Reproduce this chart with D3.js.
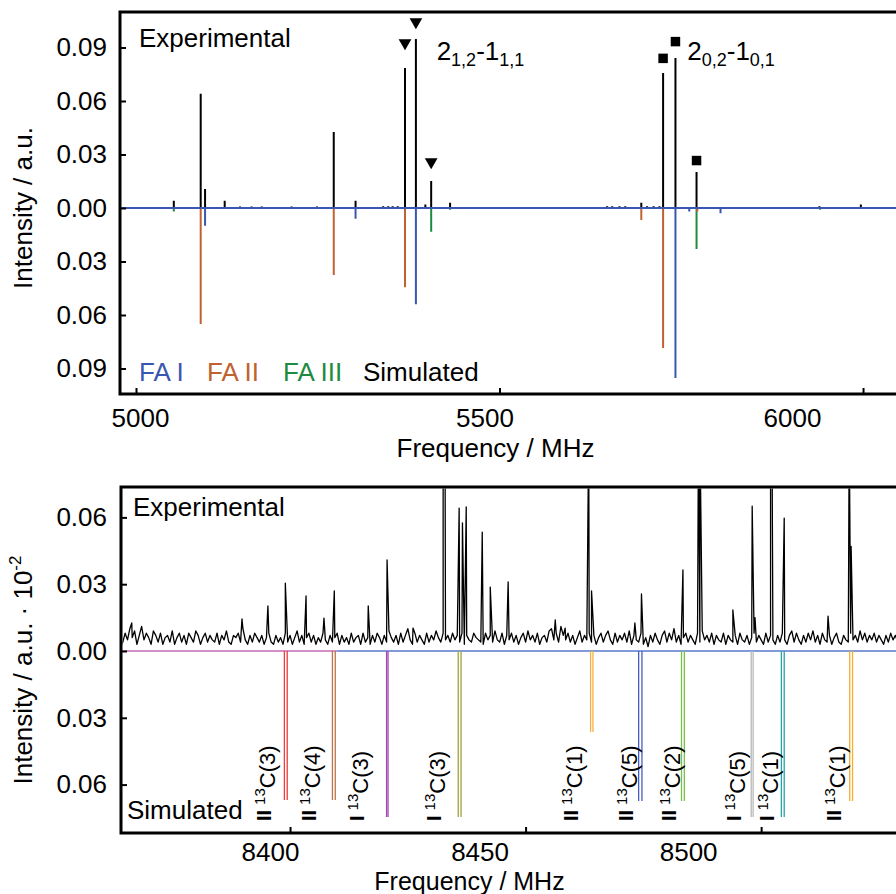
<!DOCTYPE html>
<html lang="en">
<head>
<meta charset="UTF-8">
<title>Rotational spectrum</title>
<style>
  body { margin: 0; background: #fff; }
  svg { display: block; font-family: "Liberation Sans", Arial, sans-serif; }
</style>
</head>
<body>
<div id="chart"></div>
<script src="https://d3js.org/d3.v7.min.js"></script>
<script>
// ---- top panel (broadband, 5000-6000 MHz) ----
const expFreq = [5052, 5089, 5095, 5122, 5143, 5159, 5173, 5214, 5249, 5272, 5302, 5340, 5347, 5353, 5360,
  5370, 5385, 5398, 5406, 5432, 5648, 5655, 5665, 5673, 5695, 5703, 5712, 5720, 5725, 5742, 5771, 5940, 5997];
const expInt = [0.004, 0.064, 0.0107, 0.004, 0.0008, 0.0008, 0.0008, 0.0008, 0.0008, 0.0426, 0.004, 0.001, 0.001, 0.001, 0.001,
  0.0785, 0.0948, 0.002, 0.0151, 0.003, 0.001, 0.001, 0.001, 0.001, 0.003, 0.001, 0.001, 0.001, 0.0757, 0.0841, 0.0202, 0.001, 0.002];

const faIFreq = [5095, 5302, 5385, 5742, 5761, 5804];
const faIInt = [-0.010, -0.006, -0.054, -0.0953, -0.002, -0.003];
const faIIFreq = [5089, 5272, 5370, 5695, 5725, 5772];
const faIIInt = [-0.065, -0.0376, -0.0444, -0.0067, -0.0785, -0.002];
const faIIIFreq = [5052, 5406, 5432, 5771, 5941];
const faIIIInt = [-0.002, -0.0133, -0.001, -0.023, -0.001];

const triFreq = [5370, 5385, 5406];
const triInt = [0.0925, 0.1043, 0.0258];
const sqFreq = [5725, 5742, 5771];
const sqInt = [0.0839, 0.0933, 0.0266];

const legendNames = ["FA I", "FA II", "FA III", "Simulated"];
const topXTicks = [5000, 5500, 6000];
const topYTicks = [-0.09, -0.06, -0.03, 0, 0.03, 0.06, 0.09];

// ---- bottom panel (zoom, 8365-8530 MHz) ----
// experimental noise floor, one sample every 0.5 MHz from 8364 MHz, in units of 0.001
const noiseStart = 8364, noiseStep = 0.5;
const noise = [
  2,4,8,5,10,6,9,3,7,11,5,8,6,3,9,7,4,8,3,6,
  7,4,9,3,6,8,4,7,3,8,6,4,9,7,3,6,8,4,7,5,
  4,8,3,7,5,9,4,3,7,6,8,4,10,5,3,7,4,8,6,4,
  7,3,6,8,4,3,7,4,6,3,8,4,7,3,6,9,4,7,3,6,
  8,4,7,3,6,4,8,5,3,7,4,6,8,3,7,4,6,3,8,4,
  6,7,3,8,4,6,3,7,4,8,6,3,7,4,9,6,4,7,3,8,
  4,7,10,5,3,8,4,7,5,3,8,4,7,5,9,6,4,8,5,7,
  4,8,5,7,4,8,3,7,5,4,8,6,5,4,3,8,5,7,4,9,
  5,4,8,3,7,5,8,4,7,3,6,8,4,9,5,7,4,8,3,6,
  7,4,9,10,5,8,4,11,7,5,8,4,7,3,6,9,4,7,5,8,
  4,7,3,6,8,4,7,9,5,3,8,4,7,5,8,4,9,3,7,5,
  4,8,3,6,2,7,4,8,5,3,7,9,4,8,5,10,4,7,3,6,
  8,4,7,5,3,8,4,9,5,7,4,8,3,7,5,4,8,3,7,5,
  4,7,3,8,5,4,7,3,6,8,4,7,5,3,8,4,7,5,3,7,
  4,8,5,3,7,9,4,8,5,3,7,4,8,5,9,4,7,3,8,5,
  4,7,3,6,8,4,3,7,5,4,8,5,7,4,9,5,8,4,7,5,
  8,4,7,5,3,7,4,8,5,7,4,8,5,3,7,4
];
// experimental lines (tall ones run off the top of the frame)
const peakFreq = [8366.4, 8389.8, 8395.3, 8399.0, 8403.4, 8407.2, 8409.4, 8416.6, 8420.6, 8426.1,
  8432.5, 8432.9, 8435.9, 8436.6, 8437.4, 8440.8, 8442.5, 8446.3, 8456.3, 8458.4, 8463.4, 8464.0,
  8473.2, 8474.6, 8483.4, 8486.7, 8487.0, 8494.0, 8498.1, 8498.7, 8502.0, 8502.3, 8504.9, 8514.2,
  8518.7, 8519.1];
const peakInt = [0.0126, 0.0144, 0.0202, 0.0305, 0.0247, 0.0148, 0.027, 0.0202, 0.0409, 0.0103,
  0.1, 0.1, 0.0642, 0.0575, 0.0647, 0.0534, 0.0287, 0.031, 0.014, 0.0103, 0.1, 0.027,
  0.0126, 0.0256, 0.0364, 0.1, 0.1, 0.0184, 0.0651, 0.015, 0.1, 0.1, 0.0597, 0.0157,
  0.1, 0.047];

// simulated 13C isotopologue doublets
const simFreqs = [[8398.8, 8399.4], [8409.0, 8409.6], [8420.5, 8420.8], [8435.7, 8436.3], [8463.8, 8464.3],
  [8474.0, 8474.7], [8483.1, 8483.7], [8497.9, 8498.3], [8504.3, 8504.9], [8518.8, 8519.4]];
const simInt = [-0.0669, -0.0669, -0.0745, -0.0745, -0.0364, -0.0674, -0.0674, -0.0745, -0.0745, -0.0674];
const simColors = ["#ee3b3b", "#b8744a", "#a447b4", "#a3a23c", "#f5b042", "#4a5cc0", "#79c04a", "#b8b8b8", "#27a3a8", "#f5ae30"];
const simLabelFreq = [8396.8, 8406.4, 8416.6, 8432.9, 8462.0, 8473.7, 8482.8, 8496.6, 8503.6, 8517.8];
const simConformer = ["II", "II", "I", "I", "II", "II", "II", "I", "I", "II"];
const simCarbon = ["3", "4", "3", "3", "1", "5", "2", "5", "1", "1"];
const baseSwitchFreq = 8410;

const botXTicks = [8400, 8450, 8500];
const botYTicks = [-0.06, -0.03, 0, 0.03, 0.06];

const FONT = '"Liberation Sans", Arial, sans-serif';
const BLUE = "#3956b0", BROWN = "#c0622f", GREEN = "#1e8b3e";

const width = 896, height = 894;
const svg = d3.select("#chart").append("svg")
  .attr("width", width).attr("height", height);

const xTop = d3.scaleLinear().domain([4978, 6064.6]).range([120, 910]);
const yTop = d3.scaleLinear().domain([-0.1043, 0.1099]).range([394, 12]);
const xBot = d3.scaleLinear().domain([8364.12, 8531.6]).range([121, 910]);
const yBot = d3.scaleLinear().domain([-0.08174, 0.07365]).range([833, 487]);

const absFmt = d => d3.format(".2f")(Math.abs(d));

function styleAxis(g) {
  g.attr("font-size", 26).attr("font-family", FONT);
  g.select(".domain").remove();
  g.selectAll(".tick line").attr("stroke", "#000").attr("stroke-width", 2);
  g.selectAll(".tick text").attr("fill", "#000");
}

const defs = svg.append("defs");
defs.append("clipPath").attr("id", "clipTop").append("rect")
  .attr("x", 121.5).attr("y", 13.5).attr("width", 800).attr("height", 379);
defs.append("clipPath").attr("id", "clipBot").append("rect")
  .attr("x", 122.5).attr("y", 488.5).attr("width", 800).attr("height", 343);

// ================= top panel =================
const topData = svg.append("g").attr("clip-path", "url(#clipTop)");

topData.append("line")
  .attr("x1", xTop.range()[0]).attr("x2", xTop.range()[1])
  .attr("y1", yTop(0)).attr("y2", yTop(0))
  .attr("stroke", "#000").attr("stroke-width", 1);

function sticks(g, xs, ys, color, w) {
  g.selectAll(null).data(xs).join("line")
    .attr("x1", d => xTop(d)).attr("x2", d => xTop(d))
    .attr("y1", yTop(0)).attr("y2", (d, i) => yTop(ys[i]))
    .attr("stroke", color).attr("stroke-width", w);
}
sticks(topData, expFreq, expInt, "#000", 2);
sticks(topData, faIIIFreq, faIIIInt, GREEN, 2);
sticks(topData, faIIFreq, faIIInt, BROWN, 2);
sticks(topData, faIFreq, faIInt, BLUE, 2);

topData.append("line")
  .attr("x1", xTop.range()[0]).attr("x2", xTop.range()[1])
  .attr("y1", yTop(0)).attr("y2", yTop(0))
  .attr("stroke", BLUE).attr("stroke-width", 2);

svg.append("g").selectAll("path").data(triFreq).join("path")
  .attr("transform", (d, i) => `translate(${xTop(d)},${yTop(triInt[i])}) rotate(180)`)
  .attr("d", d3.symbol().type(d3.symbolTriangle).size(70))
  .attr("fill", "#000");
svg.append("g").selectAll("path").data(sqFreq).join("path")
  .attr("transform", (d, i) => `translate(${xTop(d)},${yTop(sqInt[i])})`)
  .attr("d", d3.symbol().type(d3.symbolSquare).size(90))
  .attr("fill", "#000");

// transition labels
function transition(xf, parts) {
  const t = svg.append("text").attr("x", xTop(xf)).attr("y", 60)
    .attr("font-size", 26).attr("fill", "#000");
  t.append("tspan").text(parts[0]);
  t.append("tspan").attr("font-size", 18).attr("dy", 6).text(parts[1]);
  t.append("tspan").attr("dy", -6).text(parts[2]);
  t.append("tspan").attr("font-size", 18).attr("dy", 6).text(parts[3]);
}
transition(5413.5, ["2", "1,2", "-1", "1,1"]);
transition(5758.2, ["2", "0,2", "-1", "0,1"]);

svg.append("text").attr("x", 139).attr("y", 47).attr("font-size", 26).text("Experimental");

const legendX = [139, 207, 283, 363];
const legendColors = [BLUE, BROWN, GREEN, "#000"];
svg.append("g").selectAll("text").data(legendNames).join("text")
  .attr("x", (d, i) => legendX[i]).attr("y", 381)
  .attr("font-size", 26).attr("fill", (d, i) => legendColors[i])
  .text(d => d);

// frame + axes
svg.append("rect").attr("x", 120).attr("y", 12).attr("width", 790).attr("height", 382)
  .attr("fill", "none").attr("stroke", "#000").attr("stroke-width", 3);

const topLabelNudge = [4, -15, -71];
svg.append("g").attr("transform", "translate(0,394)")
  .call(d3.axisBottom(xTop).tickValues(topXTicks).tickSizeInner(-6).tickSizeOuter(0).tickFormat(d3.format("d")))
  .call(styleAxis)
  .call(g => g.selectAll(".tick text").attr("dy", null).attr("y", 33).attr("dx", (d, i) => topLabelNudge[i]));

svg.append("g").attr("transform", "translate(120,0)")
  .call(d3.axisLeft(yTop).tickValues(topYTicks).tickSizeInner(-6).tickSizeOuter(0).tickPadding(13).tickFormat(absFmt))
  .call(styleAxis);

svg.append("text").attr("transform", "translate(32,208) rotate(-90)")
  .attr("text-anchor", "middle").attr("font-size", 26).text("Intensity / a.u.");
svg.append("text").attr("x", 495.5).attr("y", 457)
  .attr("text-anchor", "middle").attr("font-size", 26).text("Frequency / MHz");

// ================= bottom panel =================
const botData = svg.append("g").attr("clip-path", "url(#clipBot)");

const expPts = noise.map((v, i) => [noiseStart + i * noiseStep, v / 1000])
  .concat(peakFreq.map((f, i) => [f, peakInt[i]]))
  .sort((a, b) => a[0] - b[0]);

botData.append("line")
  .attr("x1", xBot(noiseStart)).attr("x2", xBot(baseSwitchFreq))
  .attr("y1", yBot(0)).attr("y2", yBot(0))
  .attr("stroke", "#c46ab6").attr("stroke-width", 1.5);
botData.append("line")
  .attr("x1", xBot(baseSwitchFreq)).attr("x2", xBot.range()[1])
  .attr("y1", yBot(0)).attr("y2", yBot(0))
  .attr("stroke", "#5a78cc").attr("stroke-width", 1.5);

simFreqs.forEach((pair, i) => {
  botData.selectAll(null).data(pair).join("line")
    .attr("x1", d => xBot(d)).attr("x2", d => xBot(d))
    .attr("y1", yBot(0)).attr("y2", yBot(simInt[i]))
    .attr("stroke", simColors[i]).attr("stroke-width", 1.3);
});

botData.append("path").datum(expPts)
  .attr("fill", "none").attr("stroke", "#000").attr("stroke-width", 1.3)
  .attr("stroke-linejoin", "round")
  .attr("d", d3.line().x(d => xBot(d[0])).y(d => yBot(d[1])));

// isotopologue labels, rotated
simLabelFreq.forEach((f, i) => {
  const t = svg.append("text")
    .attr("transform", `translate(${xBot(f)},821) rotate(-90)`)
    .attr("font-size", 22).attr("fill", "#000");
  t.append("tspan").attr("font-weight", "bold").attr("font-size", 20).attr("dy", -4).text(simConformer[i]);
  t.append("tspan").attr("font-size", 15).attr("dx", 5).attr("dy", -6).text("13");
  t.append("tspan").attr("dy", 10).text("C(" + simCarbon[i] + ")");
});

svg.append("text").attr("x", 133).attr("y", 516).attr("font-size", 26).text("Experimental");
svg.append("text").attr("x", 127).attr("y", 819).attr("font-size", 26).text("Simulated");

svg.append("rect").attr("x", 121).attr("y", 487).attr("width", 789).attr("height", 346)
  .attr("fill", "none").attr("stroke", "#000").attr("stroke-width", 3);

const botLabelNudge = [-20, -46, -73];
svg.append("g").attr("transform", "translate(0,833)")
  .call(d3.axisBottom(xBot).tickValues(botXTicks).tickSizeInner(-6).tickSizeOuter(0).tickFormat(d3.format("d")))
  .call(styleAxis)
  .call(g => g.selectAll(".tick text").attr("dy", null).attr("y", 28).attr("dx", (d, i) => botLabelNudge[i]));

svg.append("g").attr("transform", "translate(121,0)")
  .call(d3.axisLeft(yBot).tickValues(botYTicks).tickSizeInner(-6).tickSizeOuter(0).tickPadding(14).tickFormat(absFmt))
  .call(styleAxis);

const yl = svg.append("text").attr("transform", "translate(32,670) rotate(-90)")
  .attr("text-anchor", "middle").attr("font-size", 26);
yl.append("tspan").text("Intensity / a.u. \u00b7 10");
yl.append("tspan").attr("font-size", 17).attr("dy", -11).text("-2");

svg.append("text").attr("x", 469.5).attr("y", 890)
  .attr("text-anchor", "middle").attr("font-size", 25).text("Frequency / MHz");
</script>
</body>
</html>
